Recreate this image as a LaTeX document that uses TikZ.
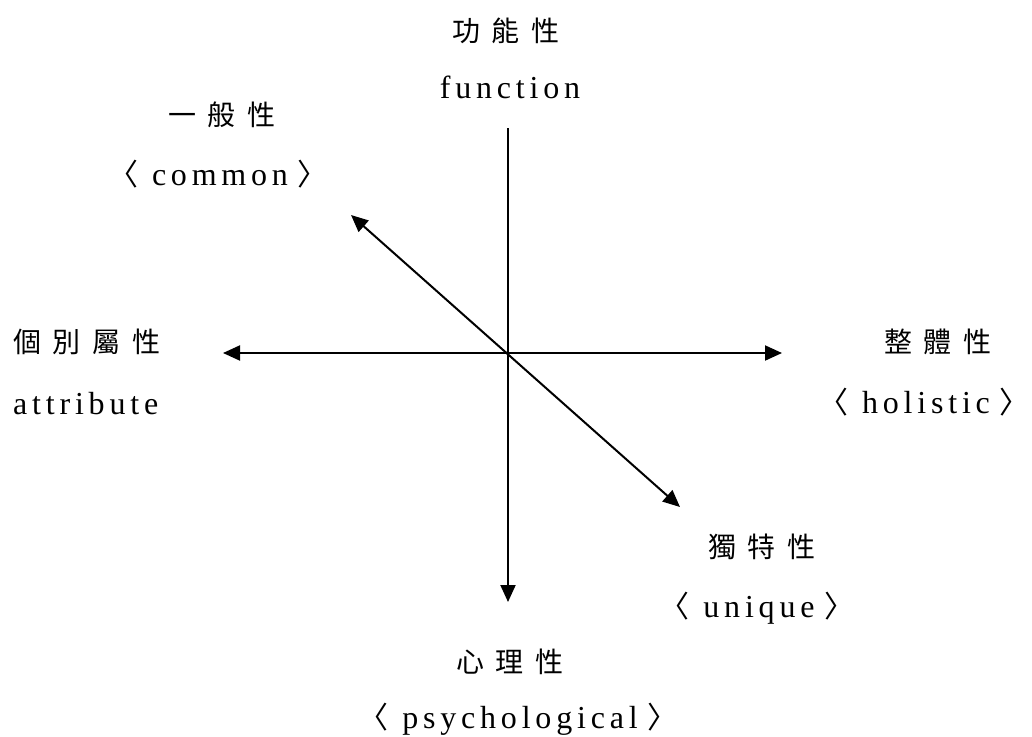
\documentclass[tikz,border=0pt]{standalone}
\usepackage{fontspec}
\setmainfont{Liberation Serif}[LetterSpace=15]
\newfontfamily\cjk{Noto Sans CJK TC}[LetterSpace=42]
\newfontfamily\brk{Noto Sans CJK TC}
\usetikzlibrary{arrows.meta}
\tikzset{
  cjklab/.style={inner sep=0pt, font=\cjk\fontsize{28}{28}\selectfont},
  latlab/.style={inner sep=0pt, font=\fontsize{32}{32}\selectfont},
  axis/.style={line width=2pt, -{Triangle[length=17pt,width=15pt]}},
  axis2/.style={line width=2pt, {Triangle[length=17pt,width=15pt]}-{Triangle[length=17pt,width=15pt]}}
}
\newcommand{\lb}{{\brk\fontsize{30}{30}\selectfont 〈}\hspace{14pt}}
\newcommand{\rb}{\hspace{10pt}{\brk\fontsize{30}{30}\selectfont 〉}}
\begin{document}
\begin{tikzpicture}[x=1pt,y=-1pt]
\useasboundingbox (0,0) rectangle (1032,736);
% axes end points
\coordinate (top) at (508,128);
\coordinate (bot) at (508,602);
\coordinate (lft) at (223,353);
\coordinate (rgt) at (782,353);
\coordinate (ul) at (351,215);
\coordinate (lr) at (680,507);
\draw[axis] (top) -- (bot);
\draw[axis2] (lft) -- (rgt);
\draw[axis2] (ul) -- (lr);
% labels
\node[cjklab] (f1) at (506,31) {功能性};
\node[latlab, anchor=base] (f2) at (510,98) {function};
\node[cjklab] (c1) at (222,115) {一般性};
\node[latlab, anchor=base] (c2) at (218,185) {\lb common\rb};
\node[cjklab, anchor=west] (a1) at (13,342) {個別屬性};
\node[latlab, anchor=base west] (a2) at (13,414) {attribute};
\node[cjklab] (h1) at (938,342) {整體性};
\node[latlab, anchor=base] (h2) at (924,413) {\lb holistic\rb};
\node[cjklab] (u1) at (762,547) {獨特性};
\node[latlab, anchor=base] (u2) at (757,617) {\lb unique\rb};
\node[cjklab] (p1) at (510,662) {心理性};
\node[latlab, anchor=base] (p2) at (518,728) {\lb psychological\rb};
\end{tikzpicture}
\end{document}
